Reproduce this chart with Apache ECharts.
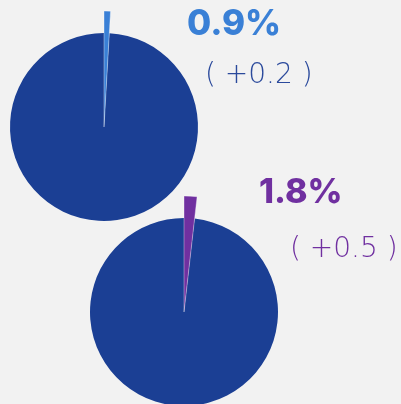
<!DOCTYPE html>
<html><head><meta charset="utf-8">
<script src="https://cdn.jsdelivr.net/npm/echarts@6/dist/echarts.min.js"></script>
<style>html,body{margin:0;padding:0;background:#f2f2f2}#c{width:401px;height:404px}</style>
</head><body><div id="c"></div>
<script>
const sharesTop = [0.9, 99.1];
const sharesBottom = [1.8, 98.2];
const labelsMain = ['0.9%', '1.8%'];
const labelsChange = ['( +0.2 )', '( +0.5 )'];
const baseColor = '#1b3f94';
const accentColors = ['#3a80d6', '#7030a0'];
const changeColors = ['#2b4a9c', '#7030a0'];

function pieSeries(center, shares, accent) {
  return [
    {
      type: 'pie', center: center, radius: [0, 94], startAngle: 90, clockwise: true,
      silent: true, label: {show: false}, labelLine: {show: false},
      itemStyle: {borderWidth: 0},
      data: [
        {value: shares[0], itemStyle: {color: 'rgba(0,0,0,0)'}},
        {value: shares[1], itemStyle: {color: baseColor}}
      ]
    },
    {
      type: 'pie', center: center, radius: [0, 116], startAngle: 90, clockwise: true,
      silent: true, label: {show: false}, labelLine: {show: false},
      data: [
        {value: shares[0], itemStyle: {color: accent, borderColor: 'rgba(255,255,255,0.6)', borderWidth: 0.6}},
        {value: shares[1], itemStyle: {color: 'rgba(0,0,0,0)'}}
      ]
    }
  ];
}

const changeFont = '"DejaVu Sans ExtraLight", "DejaVu Sans", sans-serif';
const chart = echarts.init(document.getElementById('c'), null, {renderer: 'canvas'});
chart.setOption({
  backgroundColor: '#f2f2f2',
  animation: false,
  title: [
    {text: labelsMain[0], left: 182, top: 2, textStyle: {fontFamily: 'Inter', fontWeight: 800, fontSize: 35, color: accentColors[0]}},
    {text: labelsChange[0], left: 200, top: 57, textStyle: {fontFamily: changeFont, fontWeight: 200, fontSize: 28, color: changeColors[0]}},
    {text: labelsMain[1], left: 254, top: 171, textStyle: {fontFamily: 'Inter', fontWeight: 800, fontSize: 34, color: accentColors[1]}},
    {text: labelsChange[1], left: 285, top: 231, textStyle: {fontFamily: changeFont, fontWeight: 200, fontSize: 28, color: changeColors[1]}}
  ],
  series: [].concat(
    pieSeries([104, 127], sharesTop, accentColors[0]),
    pieSeries([184, 312], sharesBottom, accentColors[1])
  )
});
</script></body></html>
